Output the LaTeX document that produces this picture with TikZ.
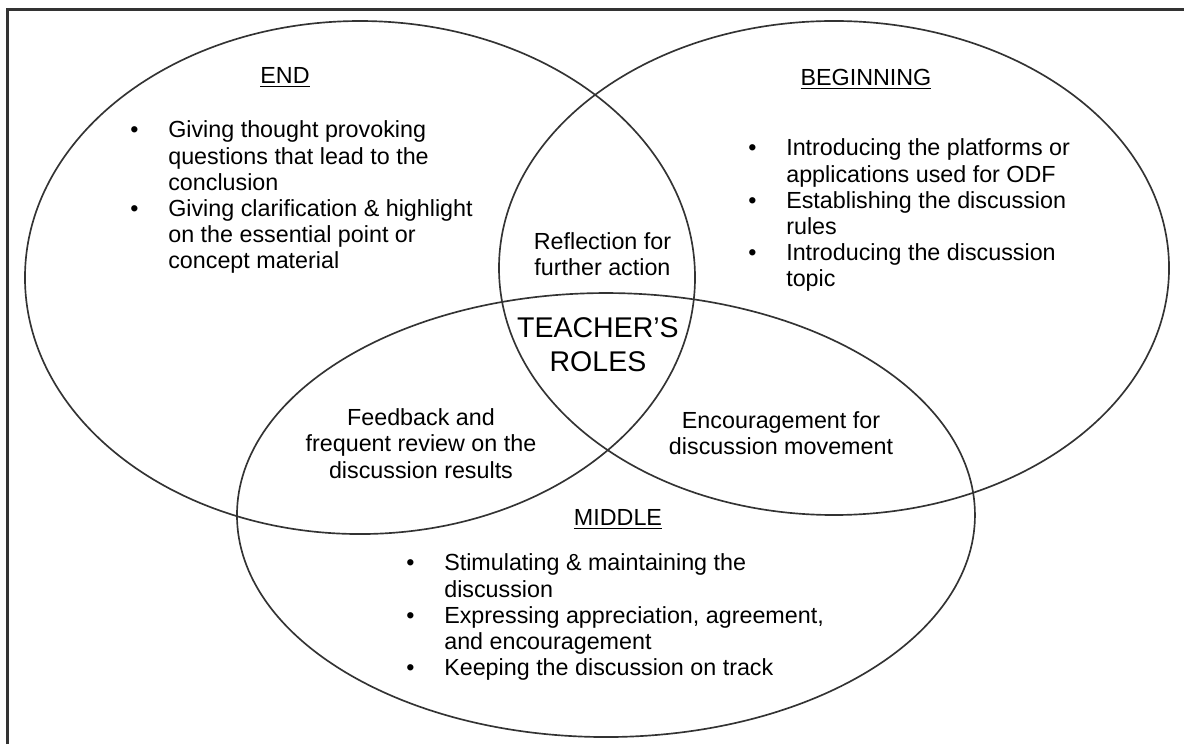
\documentclass[tikz,border=0pt]{standalone}
\usepackage{fontspec}
\setmainfont{Liberation Sans}
\usetikzlibrary{shapes.geometric}
\definecolor{linegray}{HTML}{333333}
\newcommand{\bitem}{\makebox[0.64cm][l]{\textbullet}}
\newcommand{\bcont}{\hspace*{0.64cm}}

\begin{document}
\begin{tikzpicture}[
        set/.style={ellipse, draw=linegray, line width=0.8pt, inner sep=0pt},
        txt/.style={font=\fontsize{11.2}{12.6}\selectfont, align=center, inner sep=0pt},
        list/.style={font=\fontsize{11.2}{12.6}\selectfont, align=left, inner sep=0pt, anchor=north west},
        head/.style={font=\fontsize{11.2}{12.6}\selectfont, inner sep=0pt, anchor=base}
    ]
    \useasboundingbox (0, 0) rectangle (20, 12.568);

    % frame
    \coordinate (framebl) at (0.127, 0);
    \coordinate (frametr) at (20, 12.407);
    \draw[linegray, line width=1.4pt] (framebl) |- (frametr);

    \node[set, minimum width=11.318cm, minimum height=8.666cm] (endset) at (6.081, 7.880) {};
    \node[set, minimum width=11.318cm, minimum height=8.345cm] (beginset) at (14.088, 8.041) {};
    \node[set, minimum width=12.466cm, minimum height=7.5cm] (middleset) at (10.236, 3.868) {};

    \node[head] (endtitle) at (4.814, 11.159) {\underline{END}};
    \node[head] (begintitle) at (14.628, 11.125) {\underline{BEGINNING}};
    \node[head] (middletitle) at (10.439, 3.693) {\underline{MIDDLE}};

    % END
    \node[list] (endlist) at (2.196, 10.532) {\bitem Giving thought provoking\\
        \bcont questions that lead to the\\
        \bcont conclusion\\
        \bitem Giving clarification \& highlight\\
        \bcont on the essential point or\\
        \bcont concept material};

    % BEGINNING
    \node[list] (beginlist) at (12.635, 10.228) {\bitem Introducing the platforms or\\
        \bcont applications used for ODF\\
        \bitem Establishing the discussion\\
        \bcont rules\\
        \bitem Introducing the discussion\\
        \bcont topic};

    % MIDDLE
    \node[list] (middlelist) at (6.858, 3.218) {\bitem Stimulating \& maintaining the\\
        \bcont discussion\\
        \bitem Expressing appreciation, agreement,\\
        \bcont and encouragement\\
        \bitem Keeping the discussion on track};

    % overlaps
    \node[txt] (reflection) at (10.177, 8.277) {Reflection for\\further action};
    \node[txt] (feedback) at (7.111, 5.076) {Feedback and\\frequent review on the\\discussion results};
    \node[txt] (encourage) at (13.193, 5.253) {Encouragement for\\discussion movement};
    \node[txt, font=\fontsize{13.7}{16.3}\selectfont] (roles) at (10.101, 6.740) {TEACHER’S\\ROLES};
\end{tikzpicture}
\end{document}
